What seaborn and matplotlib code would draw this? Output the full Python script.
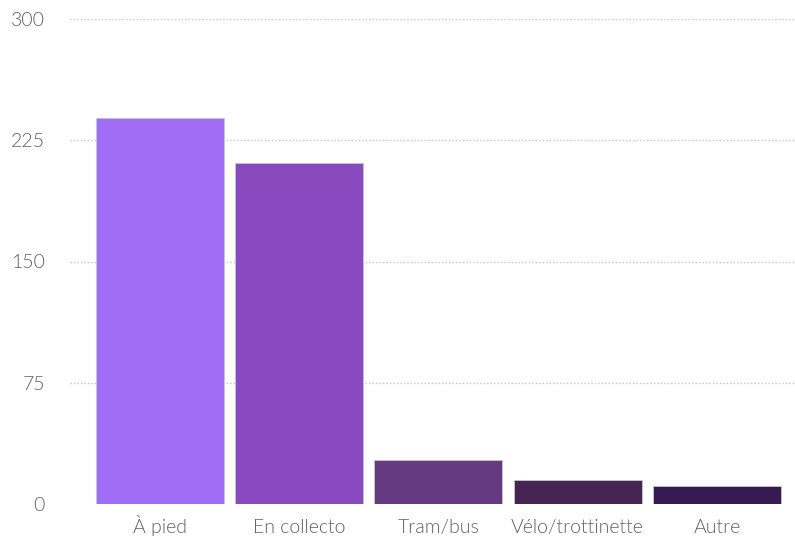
import matplotlib
matplotlib.use("Agg")
import matplotlib.pyplot as plt
import seaborn as sns
import pandas as pd

categories = ["À pied", "En collecto", "Tram/bus", "Vélo/trottinette", "Autre"]
values = [239, 211, 27, 15, 11]
colors = ["#9F6EF4", "#8A4ABF", "#663A80", "#452453", "#361A52"]
yticks = [0, 75, 150, 225, 300]

df = pd.DataFrame({"cat": categories, "val": values})

sns.set_theme(style="white")
plt.rcParams["font.family"] = ["Lato", "DejaVu Sans"]
plt.rcParams["font.weight"] = 300

fig = plt.figure(figsize=(7.95, 5.39), dpi=100)
ax = fig.add_axes([70 / 795, 35 / 539, 725 / 795, 485 / 539])

sns.barplot(data=df, x="cat", y="val", hue="cat", palette=colors, legend=False,
            width=0.92, edgecolor="#c6c6c6", linewidth=0.6, saturation=1, ax=ax)

ax.set_xlim(-0.644, 4.56)
ax.set_ylim(0, 300)
ax.set_yticks(yticks)
ax.set_yticklabels([str(v) for v in yticks])
ax.set_xlabel("")
ax.set_ylabel("")
for s in ax.spines.values():
    s.set_visible(False)
ax.set_axisbelow(True)
ax.yaxis.grid(True, color="#c4c4c4", linestyle=(0, (1, 1.5)), linewidth=1)
ax.get_ygridlines()[0].set_visible(False)
ax.tick_params(axis="y", length=0, pad=18, labelsize=14, labelcolor="#5e5e5e")
ax.tick_params(axis="x", length=0, pad=21, labelsize=14, labelcolor="#5e5e5e")
for lbl in ax.get_xticklabels():
    lbl.set_verticalalignment("baseline")

fig.savefig("out.png", dpi=100)
